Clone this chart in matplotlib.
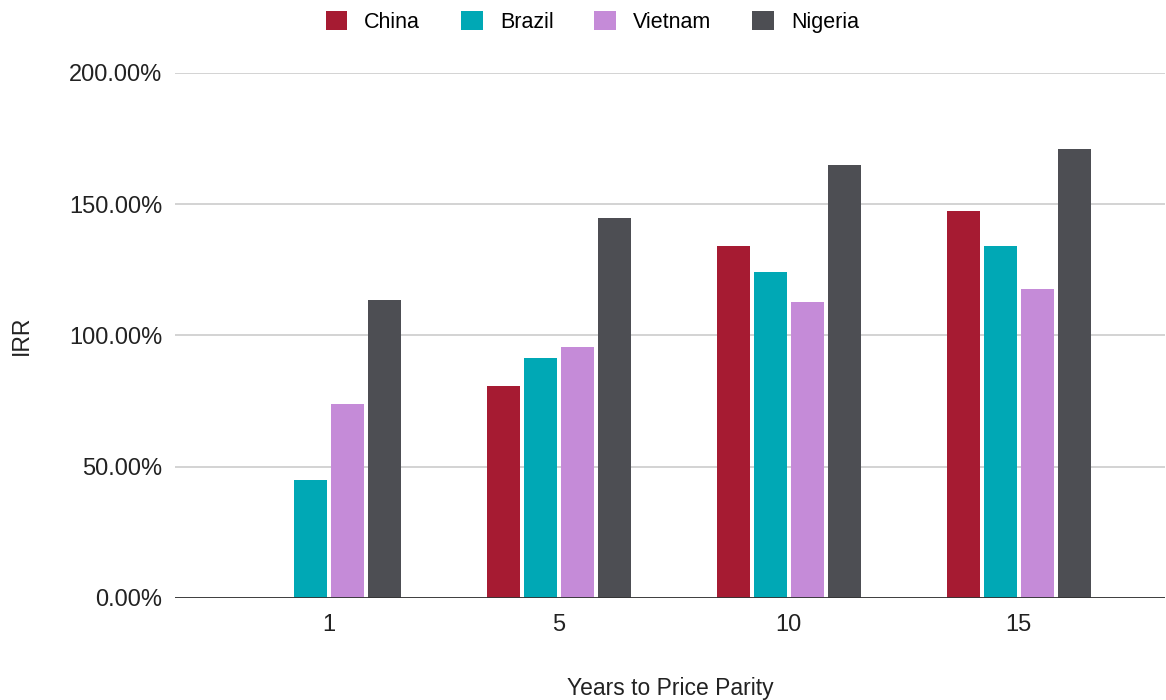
import numpy as np
import matplotlib.pyplot as plt
from matplotlib.patches import Patch

plt.rcParams['font.family'] = ['Liberation Sans', 'DejaVu Sans']

years = ['1', '5', '10', '15']
countries = ['China', 'Brazil', 'Vietnam', 'Nigeria']
colors = ['#A61B32', '#00A8B5', '#C58BD8', '#4D4E53']

# IRR in percent; no China value for year 1
china = [np.nan, 80.5, 134.0, 147.5]
brazil = [45.0, 91.5, 124.0, 134.0]
vietnam = [74.0, 95.5, 112.5, 117.5]
nigeria = [113.5, 144.5, 165.0, 171.0]
series = [china, brazil, vietnam, nigeria]

fig = plt.figure(figsize=(11.66, 7), dpi=100)
ax = fig.add_axes([0.150, 0.146, 0.849, 0.750])

x = np.arange(len(years))
step = 0.161
width = 0.1435
for i, (vals, col) in enumerate(zip(series, colors)):
    ax.bar(x + (i - 1.5) * step, vals, width, color=col, zorder=3)

ax.set_xlim(-0.67, 3.635)
ax.set_ylim(0, 200)
ax.set_yticks([0, 50, 100, 150, 200])
ax.set_yticklabels([f'{v:.2f}%' for v in [0, 50, 100, 150, 200]])
ax.set_xticks(x)
ax.set_xticklabels(years)
ax.tick_params(axis='both', length=0, labelsize=17, colors='#222222')
ax.tick_params(axis='y', pad=9)
ax.tick_params(axis='x', pad=12)

ax.grid(axis='y', color='#cccccc', linewidth=1.2, zorder=0)
ax.axhline(0, color='#333333', linewidth=1.3, zorder=4)
for s in ax.spines.values():
    s.set_visible(False)

ax.set_xlabel('Years to Price Parity', fontsize=16.5, color='#222222', labelpad=29)
ax.set_ylabel('IRR', fontsize=16.5, color='#222222', labelpad=26)

handles = [Patch(facecolor=c, edgecolor='none') for c in colors]
fig.legend(handles, countries, loc='upper center', bbox_to_anchor=(0.508, 1.012),
           ncol=4, frameon=False, fontsize=15.5, handlelength=1.0, handleheight=1.0,
           columnspacing=1.9, handletextpad=0.8)

fig.savefig('out.png', dpi=100)
